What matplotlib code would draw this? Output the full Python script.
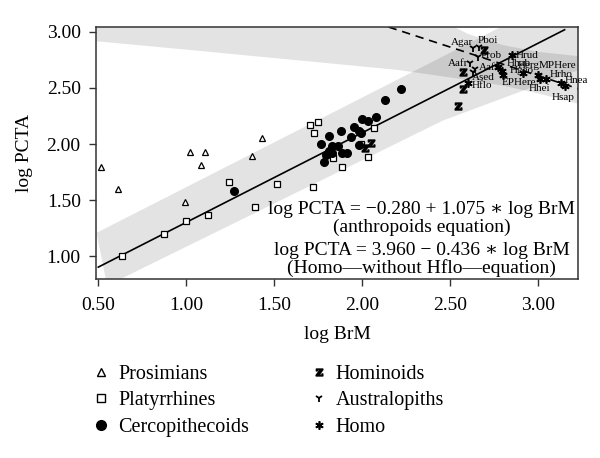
import numpy as np
import matplotlib
matplotlib.use('Agg')
import matplotlib.pyplot as plt
from matplotlib.lines import Line2D

plt.rcParams['font.family'] = ['Liberation Serif', 'DejaVu Serif']
plt.rcParams['mathtext.fontset'] = 'dejavuserif'

# ---- data (log BrM, log PCTA) ----
prosim_x = [0.514, 0.613, 0.992, 1.019, 1.085, 1.106, 1.372, 1.430]
prosim_y = [1.797, 1.604, 1.485, 1.931, 1.813, 1.926, 1.893, 2.056]

platy_x = [0.634, 0.874, 1.000, 1.121, 1.240, 1.391, 1.517, 1.719, 1.704, 1.751,
           1.728, 1.832, 1.887, 1.991, 2.030, 2.066]
platy_y = [1.003, 1.199, 1.312, 1.366, 1.658, 1.440, 1.643, 1.619, 2.170, 2.199,
           2.101, 1.872, 1.797, 1.997, 1.887, 2.140]

cerco_x = [1.274, 2.220, 2.132, 2.076, 2.000, 2.032, 1.953, 1.981, 1.992, 1.877,
           1.934, 1.811, 1.768, 1.827, 1.862, 1.981, 1.811, 1.796, 1.830, 1.887,
           1.915, 1.783]
cerco_y = [1.580, 2.491, 2.393, 2.244, 2.220, 2.205, 2.149, 2.116, 2.095, 2.116,
           2.065, 2.074, 1.997, 1.982, 1.982, 1.991, 1.938, 1.902, 1.917, 1.917,
           1.922, 1.842]

homin_x = [2.013, 2.051, 2.547, 2.571, 2.575, 2.690]
homin_y = [1.961, 2.012, 2.340, 2.494, 2.645, 2.833]

austr_names = ['Agar', 'Pboi', 'Prob', 'Aafr', 'Aafa', 'Ased']
austr_x = [2.632, 2.664, 2.660, 2.613, 2.641, 2.632]
austr_y = [2.851, 2.866, 2.777, 2.717, 2.672, 2.640]

homo_names = ['Hflo', 'Hrud', 'Hhab', 'Hgeo', 'EPHere', 'Herg', 'MPHere', 'Hhei',
              'Hrho', 'Hnea', 'Hsap']
homo_x = [2.600, 2.849, 2.773, 2.792, 2.802, 2.915, 3.000, 3.009, 3.047, 3.132, 3.151]
homo_y = [2.545, 2.792, 2.688, 2.650, 2.613, 2.628, 2.613, 2.583, 2.578, 2.539, 2.518]

# fitted lines as drawn
anthro_line_x = [0.50, 3.15]
anthro_line_y = [0.905, 3.017]
homo_line_x = [2.15, 3.30]
homo_line_y = [3.041, 2.455]

# shaded bands as drawn
anthro_up_x = [0.49, 3.30]
anthro_up_y = [1.21, 3.45]
anthro_lo_x = [0.55, 2.46, 3.30]
anthro_lo_y = [0.74, 2.21, 2.70]
homo_band_x = [0.45, 1.0, 1.6, 2.2, 2.6, 2.8, 3.0, 3.3]
homo_band_lo = [2.92, 2.84, 2.75, 2.66, 2.57, 2.52, 2.45, 2.33]
homo_band_hi = [4.90, 4.40, 3.85, 3.30, 2.98, 2.88, 2.82, 2.77]

# label placement: offset in points and alignment
austr_lab = {'Agar': (0, 4, 'right', 'center'), 'Pboi': (-1, 4.5, 'left', 'center'),
             'Prob': (2, 0.7, 'left', 'center'), 'Aafr': (-1, 0, 'right', 'center'),
             'Aafa': (3, 1, 'left', 'center'), 'Ased': (-1, -4, 'left', 'center')}
homo_lab = {'Hflo': (2.5, -2, 'left', 'center'), 'Hrud': (3, 0, 'left', 'center'),
            'Hhab': (6, 2.5, 'left', 'center'), 'Hgeo': (6, 0, 'left', 'center'),
            'EPHere': (-1.5, -5, 'left', 'center'), 'Herg': (-4, 6, 'left', 'center'),
            'MPHere': (0, 7, 'left', 'center'), 'Hhei': (0, -7, 'center', 'center'),
            'Hrho': (2, 3.5, 'left', 'center'), 'Hnea': (2, 2.3, 'left', 'center'),
            'Hsap': (-1, -8.5, 'center', 'center')}

eq_lines = ['log PCTA = \u22120.280 + 1.075 \u2217 log BrM', '(anthropoids equation)',
            'log PCTA = 3.960 \u2212 0.436 \u2217 log BrM',
            '(Homo\u2014without Hflo\u2014equation)']
eq_y = [1.42, 1.26, 1.055, 0.895]

fig = plt.figure(figsize=(6, 4.58), dpi=100)
ax = fig.add_axes([0.16, 0.391, 0.8033, 0.5502])

band_kw = dict(color='black', alpha=0.11, lw=0, zorder=0)
ax.fill(np.concatenate([anthro_up_x, anthro_lo_x[::-1]]),
        np.concatenate([anthro_up_y, anthro_lo_y[::-1]]), **band_kw)
ax.fill(np.concatenate([homo_band_x, homo_band_x[::-1]]),
        np.concatenate([homo_band_lo, homo_band_hi[::-1]]), **band_kw)

ax.plot(anthro_line_x, anthro_line_y, color='black', lw=1.2, zorder=2)
ax.plot(homo_line_x, homo_line_y, color='black', lw=1.2, ls=(0, (5, 3.5)), zorder=2)

mk = dict(ls='none', color='black', zorder=3)
ax.plot(prosim_x, prosim_y, marker='^', ms=4.5, mfc='white', mew=0.9, **mk)
ax.plot(platy_x, platy_y, marker='s', ms=4.5, mfc='white', mew=0.9, **mk)
ax.plot(cerco_x, cerco_y, marker='o', ms=5.5, **mk)
ax.plot(homin_x, homin_y, marker=r'$\mathbf{z}$', ms=5, **mk)
ax.plot(austr_x, austr_y, marker='1', ms=6, mew=1.3, **mk)
ax.plot(homo_x, homo_y, marker=(6, 2, 0), ms=6, mew=1.2, **mk)

for names, xs, ys, pos in [(austr_names, austr_x, austr_y, austr_lab),
                           (homo_names, homo_x, homo_y, homo_lab)]:
    for n, x, y in zip(names, xs, ys):
        dx, dy, ha, va = pos[n]
        ax.annotate(n, (x, y), xytext=(dx, dy), textcoords='offset points',
                    ha=ha, va=va, fontsize=8, zorder=4)

for s, y in zip(eq_lines, eq_y):
    ax.text(2.338, y, s, ha='center', va='center', fontsize=14, zorder=4)

ax.set_xlim(0.487, 3.226)
ax.set_ylim(0.80, 3.042)
ax.set_xticks([0.5, 1.0, 1.5, 2.0, 2.5, 3.0])
ax.set_yticks([1.0, 1.5, 2.0, 2.5, 3.0])
ax.xaxis.set_major_formatter(matplotlib.ticker.FormatStrFormatter('%.2f'))
ax.yaxis.set_major_formatter(matplotlib.ticker.FormatStrFormatter('%.2f'))
ax.tick_params(labelsize=14, length=5, width=1, color='#333333', pad=6)
ax.tick_params(axis='x', pad=8)
for s in ax.spines.values():
    s.set_color('#333333')
    s.set_linewidth(1.1)
ax.set_xlabel('log BrM', fontsize=14, labelpad=9)
ax.set_ylabel('log PCTA', fontsize=14, labelpad=10)

handles = [
    Line2D([], [], marker='^', ms=6, mfc='white', mew=1.0, **mk),
    Line2D([], [], marker='s', ms=6, mfc='white', mew=1.0, **mk),
    Line2D([], [], marker='o', ms=7, **mk),
    Line2D([], [], marker=r'$\mathbf{z}$', ms=5, **mk),
    Line2D([], [], marker='1', ms=6, mew=1.3, **mk),
    Line2D([], [], marker=(6, 2, 0), ms=6, mew=1.2, **mk),
]
labels = ['Prosimians', 'Platyrrhines', 'Cercopithecoids', 'Hominoids',
          'Australopiths', 'Homo']
fig.legend(handles, labels, loc='upper left', bbox_to_anchor=(0.152, 0.203),
           ncol=2, frameon=False, fontsize=14.5, handlelength=1.0, handletextpad=0.35,
           columnspacing=2.95, labelspacing=0.36, borderpad=0, borderaxespad=0)

fig.savefig('out.png', dpi=100)
